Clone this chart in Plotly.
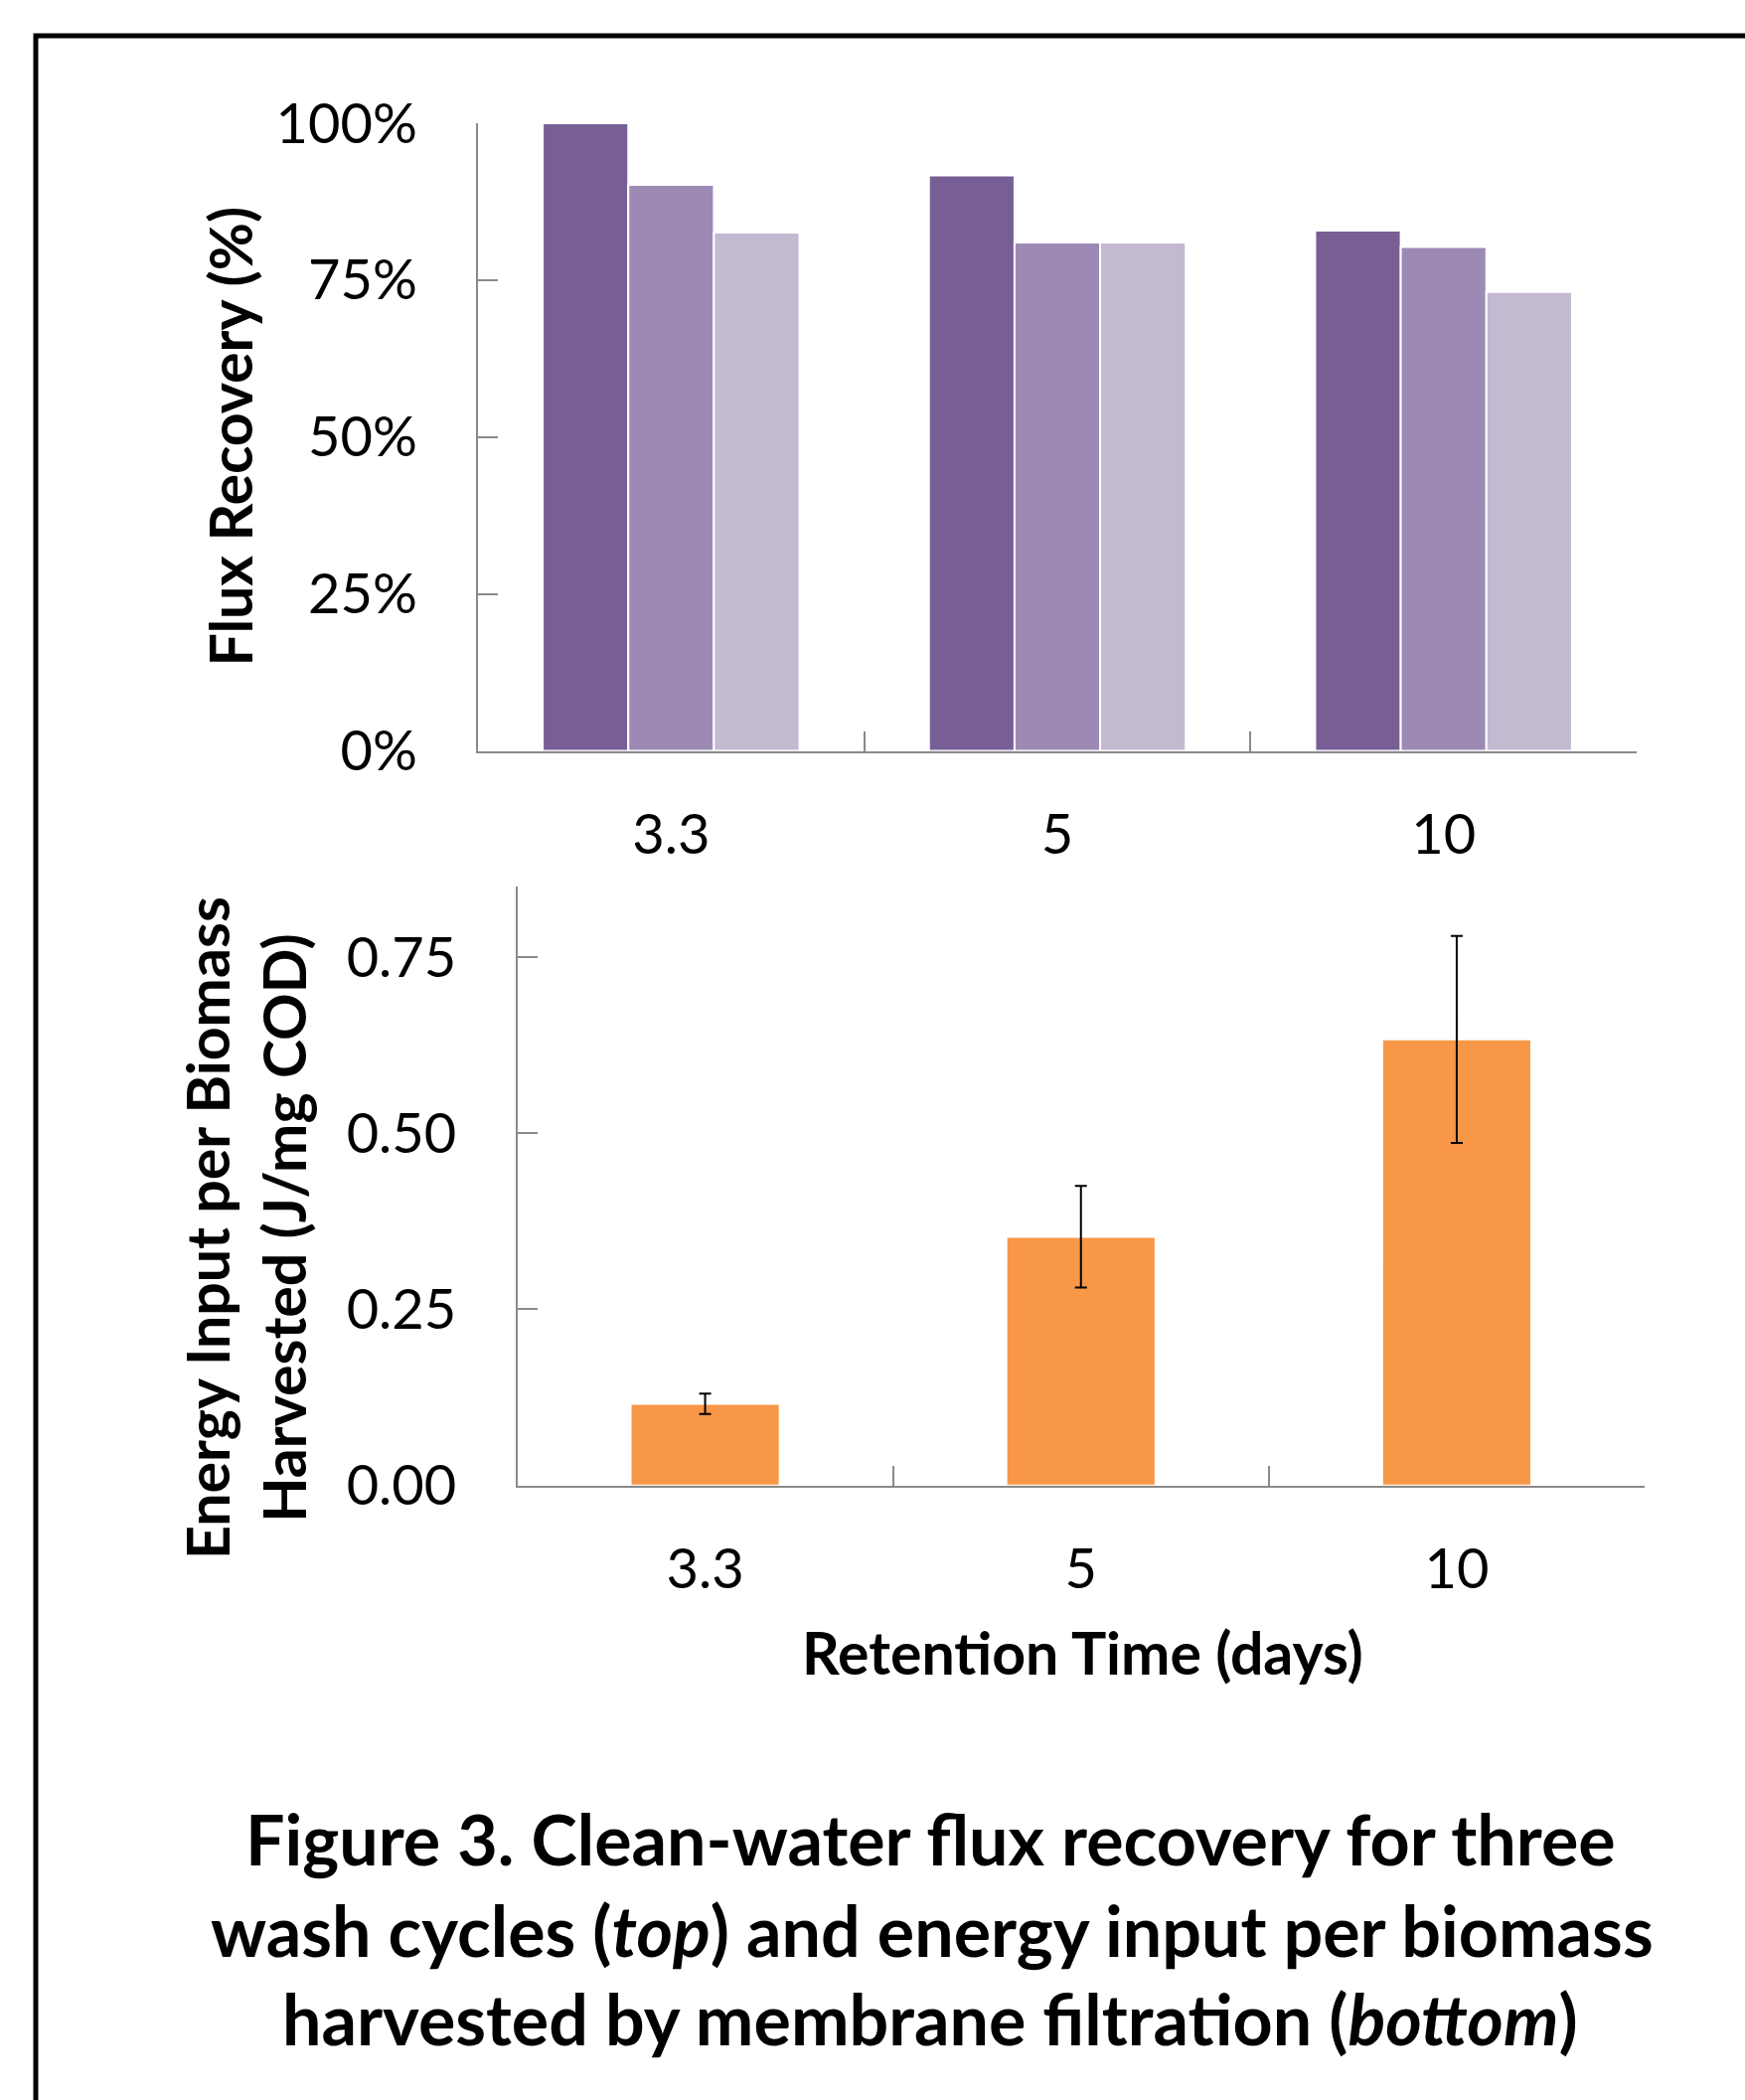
import plotly.graph_objects as go

# Retention times (days) shared by both panels
retention = ["3.3", "5", "10"]

# Clean-water flux recovery after each wash cycle (fraction of initial flux)
wash_1 = [1.00, 0.917, 0.829]
wash_2 = [0.902, 0.810, 0.803]
wash_3 = [0.826, 0.810, 0.731]

# Energy input per biomass harvested (J/mg COD) with error bar half-widths
energy = [0.116, 0.353, 0.633]
energy_err = [0.0145, 0.072, 0.147]

FONT = "Lato"
AXIS_GREY = "#8a8a8a"
PURPLES = ["#775f96", "#9c8ab4", "#c3b9d1"]
ORANGE = "#f79747"

W, H = 1756, 2113


def px_x(x):
    return x / W


def px_y(y):
    return 1 - y / H


fig = go.Figure()

for vals, col, name in zip([wash_1, wash_2, wash_3], PURPLES, ["Wash 1", "Wash 2", "Wash 3"]):
    fig.add_trace(go.Bar(
        x=retention, y=vals, name=name,
        marker=dict(color=col, line=dict(color="white", width=2)),
        xaxis="x", yaxis="y", cliponaxis=False, showlegend=False,
    ))

fig.add_trace(go.Bar(
    x=retention, y=energy, name="Energy",
    marker=dict(color=ORANGE, line=dict(color="white", width=2)),
    error_y=dict(type="data", array=energy_err, color="black", thickness=2, width=6),
    xaxis="x2", yaxis="y2", width=0.397, showlegend=False,
))

tick_font = dict(family=FONT, size=56, color="black")

common_axis = dict(
    showline=True, linecolor=AXIS_GREY, linewidth=2,
    showgrid=False, zeroline=False, automargin=False,
    ticks="inside", ticklen=20, tickwidth=2, tickcolor=AXIS_GREY,
    tickfont=tick_font,
)

fig.update_layout(
    width=W, height=H,
    margin=dict(l=0, r=0, t=0, b=0, autoexpand=False),
    paper_bgcolor="white", plot_bgcolor="white",
    barmode="group", bargap=0.335, bargroupgap=0,
    xaxis=dict(
        domain=[px_x(481), px_x(1647)], anchor="y",
        type="category", tickson="boundaries", ticklabelstandoff=34,
        **common_axis,
    ),
    yaxis=dict(
        domain=[px_y(755.5), px_y(124)], anchor="x",
        range=[0, 1], tickvals=[0, 0.25, 0.5, 0.75, 1.0], tickformat=".0%",
        ticklabelstandoff=48,
        **common_axis,
    ),
    xaxis2=dict(
        domain=[px_x(520.5), px_x(1655)], anchor="y2",
        type="category", tickson="boundaries", ticklabelstandoff=34,
        **common_axis,
    ),
    yaxis2=dict(
        domain=[px_y(1494.7), px_y(892)], anchor="x2",
        range=[0, 0.85], tickvals=[0, 0.25, 0.5, 0.75], tickformat=".2f",
        ticklabelstandoff=48,
        **common_axis,
    ),
)

title_font = dict(family=FONT, size=59, color="black")
cap_font = dict(family=FONT, size=70, color="black")

annotations = [
    dict(text="<b>Flux Recovery (%)</b>", x=px_x(231), y=px_y(439.5), textangle=-90,
         font=title_font),
    dict(text="<b>Energy Input per Biomass<br>Harvested (J/mg COD)</b>",
         x=px_x(247), y=px_y(1236), textangle=-90, font=title_font),
    dict(text="<b>Retention Time (days)</b>", x=px_x(1089), y=px_y(1662),
         font=title_font),
    dict(text="<b>Figure 3. Clean-water flux recovery for three</b>",
         x=px_x(936), y=px_y(1850), font=cap_font),
    dict(text="<b>wash cycles (<i>top</i>) and energy input per biomass</b>",
         x=px_x(938), y=px_y(1942), font=cap_font),
    dict(text="<b>harvested by membrane filtration (<i>bottom</i>)</b>",
         x=px_x(936), y=px_y(2031), font=cap_font),
]
for a in annotations:
    a.update(xref="paper", yref="paper", showarrow=False,
             xanchor="center", yanchor="middle")
fig.update_layout(annotations=annotations)

# Black frame around the figure panel
fig.add_shape(type="rect", xref="paper", yref="paper",
              x0=px_x(36), y0=px_y(36), x1=1.02, y1=-0.02,
              line=dict(color="black", width=5), fillcolor="rgba(0,0,0,0)")

fig.write_html("out.html")
